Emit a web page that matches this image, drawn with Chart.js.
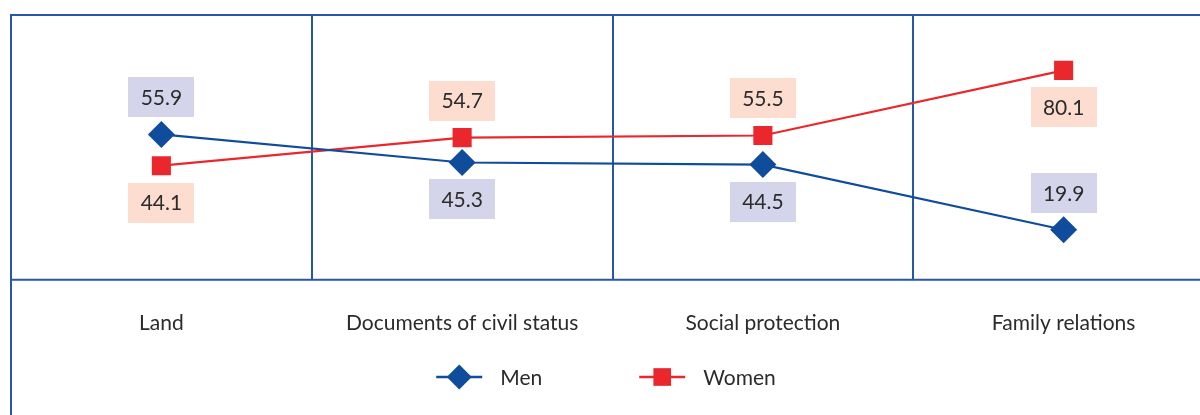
<!DOCTYPE html>
<html><head><meta charset="utf-8">
<script src="https://cdn.jsdelivr.net/npm/chart.js@4.4.1/dist/chart.umd.min.js"></script>
<style>
html,body{margin:0;padding:0;overflow:hidden;background:#fff;}
canvas{display:block;}
</style></head><body>
<canvas id="c" width="1216" height="415"></canvas>
<script>
// ---- data ----
const categories = ['Land', 'Documents of civil status', 'Social protection', 'Family relations'];
const seriesNames = ['Men', 'Women'];
const menValues = [55.9, 45.3, 44.5, 19.9];
const womenValues = [44.1, 54.7, 55.5, 80.1];
const yRange = [1, 101];

// ---- style ----
const FONT = 'Lato';
const TEXT = '#2b2b2b';
const FRAME = '#2658a7';
const MEN = '#0f4c9c';
const WOMEN = '#e9272c';
const MEN_BG = '#d4d5ea';
const WOMEN_BG = '#fcddd0';
const menLabelSide = ['above', 'below', 'below', 'above'];
const womenLabelSide = ['below', 'above', 'above', 'below'];

const framePlugin = {
  id: 'frame',
  beforeDatasetsDraw(chart) {
    const { ctx, chartArea: a, width, height } = chart;
    ctx.save();
    ctx.strokeStyle = FRAME;
    ctx.lineWidth = 2;
    ctx.beginPath();
    ctx.moveTo(a.left, height); ctx.lineTo(a.left, a.top); ctx.lineTo(width, a.top);
    ctx.moveTo(a.left, a.bottom); ctx.lineTo(width, a.bottom);
    ctx.stroke();
    ctx.restore();
  }
};

const boxPlugin = {
  id: 'valueBoxes',
  afterDatasetsDraw(chart) {
    const ctx = chart.ctx;
    ctx.save();
    ctx.font = '21px ' + FONT;
    ctx.textAlign = 'center';
    ctx.textBaseline = 'middle';
    chart.data.datasets.forEach((ds, di) => {
      const meta = chart.getDatasetMeta(di);
      meta.data.forEach((pt, i) => {
        const v = ds.data[i];
        const cy = pt.y + (ds.labelSide[i] === 'above' ? -37 : 37);
        ctx.fillStyle = ds.labelBg;
        ctx.fillRect(Math.round(pt.x - 33), Math.round(cy - 20), 66, 40);
        ctx.fillStyle = TEXT;
        ctx.fillText(v.toFixed(1), pt.x, cy + 1);
      });
    });
    ctx.restore();
  }
};

function drawMarker(ctx, style, r, x, y, color) {
  ctx.fillStyle = color;
  ctx.beginPath();
  if (style === 'rectRot') {
    ctx.moveTo(x, y - r); ctx.lineTo(x + r, y); ctx.lineTo(x, y + r); ctx.lineTo(x - r, y);
  } else {
    const h = r * Math.SQRT1_2;
    ctx.rect(x - h, y - h, 2 * h, 2 * h);
  }
  ctx.closePath();
  ctx.fill();
}

const legendPlugin = {
  id: 'lineLegend',
  afterDraw(chart) {
    const ctx = chart.ctx;
    const sets = chart.data.datasets;
    const lineW = 46, gapText = 18, gapItem = 97, cx = 606, y = 377;
    ctx.save();
    ctx.font = '21px ' + FONT;
    ctx.textBaseline = 'middle';
    ctx.textAlign = 'left';
    const widths = sets.map(ds => ctx.measureText(ds.label).width);
    let total = 0;
    widths.forEach((w, i) => { total += lineW + gapText + w + (i < widths.length - 1 ? gapItem : 0); });
    let x = cx - total / 2;
    sets.forEach((ds, i) => {
      ctx.strokeStyle = ds.borderColor;
      ctx.lineWidth = 2.5;
      ctx.beginPath(); ctx.moveTo(x, y); ctx.lineTo(x + lineW, y); ctx.stroke();
      drawMarker(ctx, ds.pointStyle, 12.5, x + lineW / 2, y, ds.borderColor);
      ctx.fillStyle = TEXT;
      ctx.fillText(ds.label, x + lineW + gapText, y + 1);
      x += lineW + gapText + widths[i] + gapItem;
    });
    ctx.restore();
  }
};

function build() {
  new Chart(document.getElementById('c'), {
    type: 'line',
    data: {
      labels: categories,
      datasets: [
        { label: seriesNames[0], data: menValues, borderColor: MEN, backgroundColor: MEN,
          pointStyle: 'rectRot', pointRadius: 13.5, pointHoverRadius: 13.5, pointBorderWidth: 0,
          borderWidth: 2.2, tension: 0, labelBg: MEN_BG, labelSide: menLabelSide },
        { label: seriesNames[1], data: womenValues, borderColor: WOMEN, backgroundColor: WOMEN,
          pointStyle: 'rect', pointRadius: 13.5, pointHoverRadius: 13.5, pointBorderWidth: 0,
          borderWidth: 2.2, tension: 0, labelBg: WOMEN_BG, labelSide: womenLabelSide }
      ]
    },
    options: {
      responsive: false,
      animation: false,
      events: [],
      layout: { autoPadding: false, padding: { left: 11, right: 2, top: 15, bottom: 48 } },
      plugins: { legend: { display: false }, tooltip: { enabled: false } },
      scales: {
        x: {
          offset: true,
          grid: { offset: true, color: FRAME, lineWidth: 2, drawTicks: false },
          border: { display: false },
          ticks: { font: { family: FONT, size: 21 }, color: TEXT, padding: 31, maxRotation: 0, autoSkip: false }
        },
        y: { display: false, min: yRange[0], max: yRange[1] }
      }
    },
    plugins: [framePlugin, boxPlugin, legendPlugin]
  });
}

(document.fonts && document.fonts.load ? document.fonts.load('21px ' + FONT).catch(() => {}) : Promise.resolve())
  .then(build, build);
</script>
</body></html>
